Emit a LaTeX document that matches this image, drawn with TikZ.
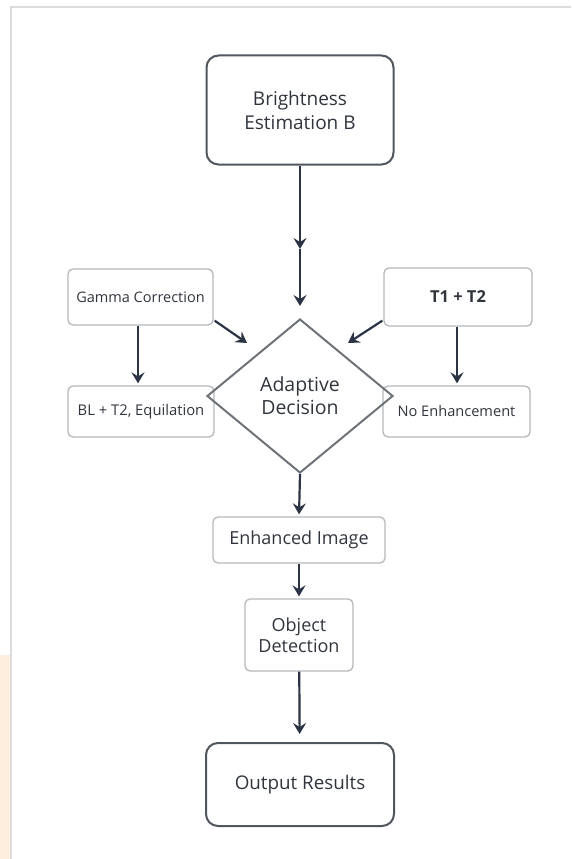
\documentclass[tikz,border=0pt]{standalone}
\usepackage{fontspec}
\setmainfont{Open Sans}
\usetikzlibrary{shapes.geometric}
\usetikzlibrary{arrows.meta}
\usetikzlibrary{positioning}
\usetikzlibrary{calc}
\definecolor{navy}{HTML}{2B3445}
\definecolor{txt}{HTML}{30353D}
\definecolor{lightbd}{HTML}{B4B8BC}
\definecolor{darkbd}{HTML}{50565E}
\definecolor{diabd}{HTML}{6E7378}
\definecolor{framegray}{HTML}{DCDCDC}
\definecolor{peach}{HTML}{FEEEDD}
\tikzset{mainbox/.style={draw=darkbd,line width=2pt,rounded corners=12pt,text=txt,align=center,inner sep=0pt},
subbox/.style={draw=lightbd,line width=1.3pt,rounded corners=5pt,text=txt,align=center,inner sep=0pt},
flow/.style={draw=navy,line width=2.2pt,-{Stealth[length=11pt,width=13pt,inset=4pt]}}}

\begin{document}
\begin{tikzpicture}[x=1pt,y=-1pt]
\useasboundingbox (0,0) rectangle (571,859);
\fill[peach] (0,655) rectangle (10,859);
\draw[framegray,line width=1.5pt] (11,859) -- (11,7) -- (571,7);

\node (bri) at (300,110) [mainbox,minimum width=187pt,minimum height=109pt,font=\fontsize{19}{24}\selectfont] {Brightness\\Estimation B};

\node (gam) at (140.5,297) [subbox,minimum width=145pt,minimum height=56pt,font=\fontsize{14.5}{17}\selectfont] {Gamma Correction};
\node (t12) at (458,297) [subbox,minimum width=148pt,minimum height=58pt,text depth=0pt,font=\fontsize{16.5}{19}\selectfont\bfseries] {T1 + T2};
\node (bl) at (141,411.5) [subbox,minimum width=146pt,minimum height=51pt,font=\fontsize{14.8}{17}\selectfont] {BL + T2, Equilation};
\node (noe) at (456.5,411.5) [subbox,minimum width=147pt,minimum height=51pt,font=\fontsize{14.6}{17}\selectfont] {No Enhancement};

\node (dec) at (300,396) [diamond,draw=diabd,line width=2pt,text=txt,align=center,inner sep=0pt,aspect=1.2,minimum width=186pt,minimum height=154pt,font=\fontsize{19.5}{23}\selectfont] {Adaptive\\Decision};

\node (enh) at (299,540) [subbox,minimum width=172pt,minimum height=46pt,font=\fontsize{18}{21}\selectfont] {Enhanced Image};
\node (obj) at (299,635) [subbox,minimum width=108pt,minimum height=72pt,font=\fontsize{18}{21}\selectfont] {Object\\Detection};
\node (out) at (300,784.5) [mainbox,minimum width=188pt,minimum height=83pt,font=\fontsize{18.8}{22}\selectfont] {Output Results};

\coordinate (bmid) at (300,249);
\coordinate (gtip) at (247,343);
\coordinate (ttip) at (348,343);

\draw[flow] (bri) -- (bmid);
\draw[flow,shorten >=12pt] (bmid) -- (dec.north);
\draw[flow] ($(gam.south east)+(1,-5)$) -- (gtip);
\draw[flow] ($(t12.south west)+(-1,-6)$) -- (ttip);
\draw[flow,shorten >=2pt] (gam.south -| 138,0) -- (bl.north -| 138,0);
\draw[flow,shorten >=2pt] (t12.south -| 457,0) -- (noe.north -| 457,0);
\draw[flow,shorten >=2pt] (dec.south) -- (enh.north);
\draw[flow,shorten >=2pt] (enh) -- (obj);
\draw[flow,shorten >=8pt] (obj) -- (out);
\end{tikzpicture}
\end{document}
